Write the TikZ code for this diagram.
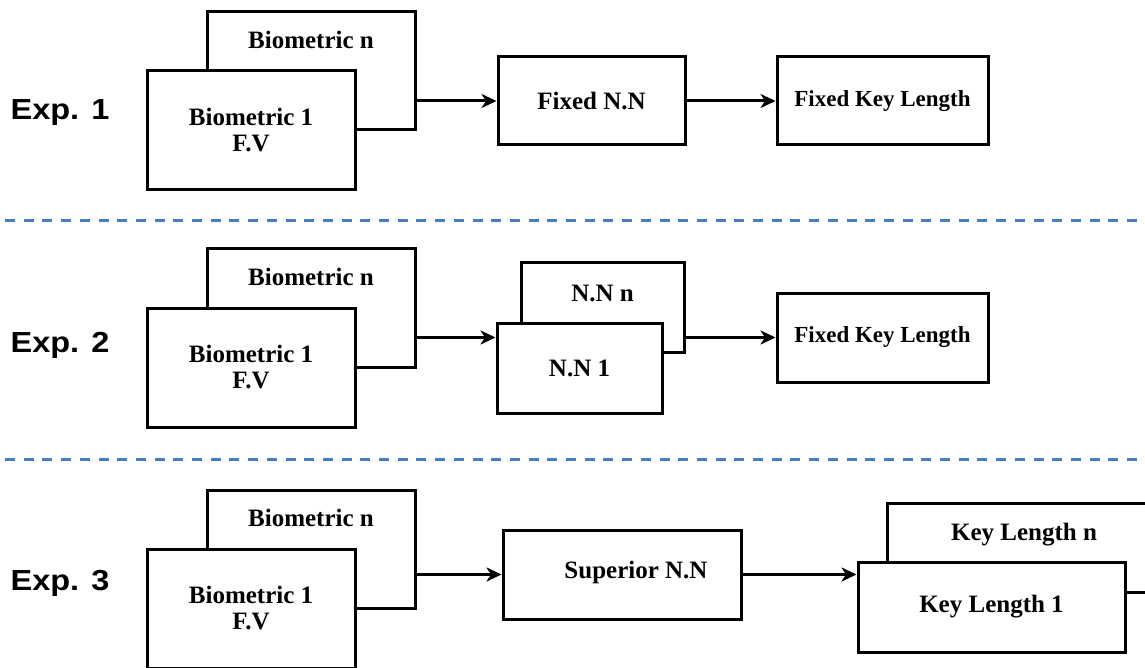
\documentclass[tikz,border=0pt]{standalone}
\usepackage{fontspec}
\setmainfont{Liberation Serif}
\newfontfamily\expfont[FakeStretch=1.12]{Liberation Sans}
\usetikzlibrary{arrows.meta}
\definecolor{sepblue}{RGB}{74,126,193}
\begin{document}
\begin{tikzpicture}[x=1pt,y=-1pt,
  box/.style={draw=black,line width=3pt,fill=white,inner sep=0pt,
    minimum width=#1,anchor=center},
  box/.default=208pt,
  boxtext/.style={inner sep=0pt,align=center,font=\bfseries\fontsize{25}{26}\selectfont},
  smalltext/.style={font=\bfseries\fontsize{23}{26}\selectfont},
  explabel/.style={inner sep=0pt,font=\expfont\bfseries\fontsize{29}{30}\selectfont},
  arr/.style={line width=3pt,-{Stealth[length=15pt,width=14pt,inset=4.5pt]}},
  sep/.style={draw=sepblue,line width=3pt,dash pattern=on 10pt off 8.7pt}]
\useasboundingbox (0,0) rectangle (1145,668);
\clip (0,0) rectangle (1145,668);

% ---------- Exp. 1 ----------
\node[explabel] (e1) at (60,113) {Exp. 1};
\node[box, minimum height=118pt] (bn1) at (311,71) {};
\node[boxtext] (bn1t) at (311,40) {Biometric n};
\node[box, minimum height=119pt, boxtext] (b11) at (251,130.5) {Biometric 1\\F.V};
\node[box=187pt, minimum height=88pt, boxtext] (fnn1) at (591.5,101) {Fixed N.N};
\node[box=211pt, minimum height=88pt, boxtext, smalltext] (fkl1) at (882.5,101) {Fixed Key Length};
\draw[arr] (fnn1.west -| bn1.east) -- (fnn1.west);
\draw[arr] (fnn1.east) -- (fkl1.west);

% separator
\coordinate (s1a) at (5,220.5);
\coordinate (s1b) at (1150,220.5);
\draw[sep] (s1a) -- (s1b);

% ---------- Exp. 2 ----------
\node[explabel] (e2) at (60,345) {Exp. 2};
\node[box, minimum height=118pt] (bn2) at (311,308) {};
\node[boxtext] (bn2t) at (311,277) {Biometric n};
\node[box, minimum height=119pt, boxtext] (b12) at (251,367.5) {Biometric 1\\F.V};
\node[box=163pt, minimum height=89pt] (nnn) at (602.5,307.5) {};
\node[boxtext] (nnnt) at (602.5,293) {N.N n};
\node[box=165pt, minimum height=90pt, boxtext] (nn1) at (579.5,368) {N.N 1};
\node[box=211pt, minimum height=89pt, boxtext, smalltext] (fkl2) at (882.5,337.5) {Fixed Key Length};
\draw[arr] (fkl2.west -| bn2.east) -- (fkl2.west -| nn1.west);
\draw[arr] (fkl2.west -| nnn.east) -- (fkl2.west);

% separator
\coordinate (s2a) at (5,459);
\coordinate (s2b) at (1150,459);
\draw[sep] (s2a) -- (s2b);

% ---------- Exp. 3 ----------
\node[explabel] (e3) at (60,583) {Exp. 3};
\node[box, minimum height=118pt] (bn3) at (311,549) {};
\node[boxtext] (bn3t) at (311,518) {Biometric n};
\node[box, minimum height=119pt, boxtext] (b13) at (251,608.5) {Biometric 1\\F.V};
\node[box=238pt, minimum height=89pt] (sup) at (622,574.5) {};
\node[boxtext] (supt) at (636,572) {Superior N.N};
\node[box=283pt, minimum height=89pt] (kln) at (1028.5,547.5) {};
\node[boxtext] (klnt) at (1024,535) {Key Length n};
\node[box=267pt, minimum height=90pt, boxtext] (kl1) at (991.5,607) {Key Length 1};
\draw[arr] (sup.west -| bn3.east) -- (sup.west);
\draw[arr] (sup.east) -- (sup.east -| kl1.west);
\end{tikzpicture}
\end{document}
